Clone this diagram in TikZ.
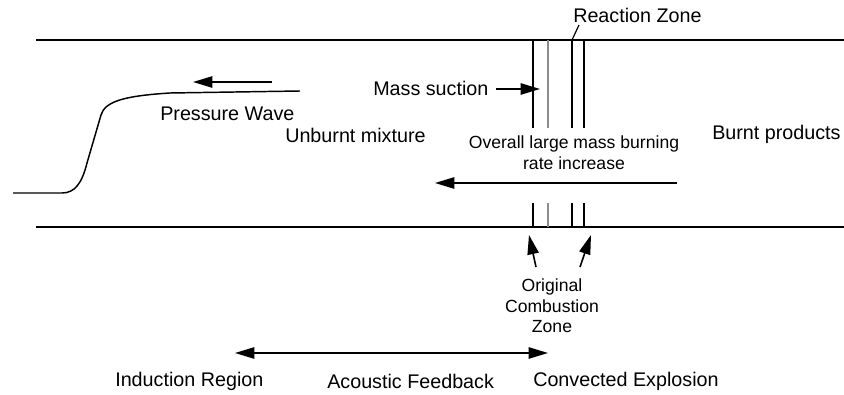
\documentclass[tikz,border=0pt]{standalone}
\usepackage{fontspec}
\setmainfont{Liberation Sans}
\usetikzlibrary{arrows.meta}
\begin{document}
\begin{tikzpicture}[x=0.75pt,y=-0.75pt,
  lbl/.style={inner sep=0pt, font=\fontsize{14.8}{17}\selectfont},
  sml/.style={inner sep=0pt, font=\fontsize{13.2}{15.5}\selectfont, align=center},
  wall/.style={line width=1.1pt},
  zline/.style={line width=1.1pt},
  gline/.style={line width=0.8pt, black!45},
  arr/.style={line width=1.2pt, -{Triangle[length=14.5pt,width=8.5pt]}},
  darr/.style={line width=1.2pt, {Triangle[length=14.5pt,width=8.5pt]}-{Triangle[length=14.5pt,width=8.5pt]}}]
\useasboundingbox (0,0) rectangle (844,395);
% tube walls
\coordinate (tl) at (36,40);  \coordinate (tr) at (844,40);
\coordinate (bl) at (36,227); \coordinate (br) at (844,227);
\draw[wall] (tl) -- (tr);
\draw[wall] (bl) -- (br);
% reaction zone lines
\foreach \x in {533,572,584}{
  \coordinate (t\x) at (\x,40); \coordinate (m\x) at (\x,128);
  \draw[zline] (t\x) -- (m\x);
  \coordinate (u\x) at (\x,203); \coordinate (b\x) at (\x,227);
  \draw[zline] (u\x) -- (b\x);
}
\coordinate (t548) at (548,40); \coordinate (m548) at (548,128);
\draw[gline] (t548) -- (m548);
\coordinate (u548) at (548,203); \coordinate (b548) at (548,227);
\draw[gline] (u548) -- (b548);
% pressure wave profile
\coordinate (pw0) at (13,193);
\coordinate (pw1) at (62,193);
\coordinate (pw2) at (87,163);
\coordinate (pw3) at (101,115);
\coordinate (pw4) at (170,93);
\coordinate (pw5) at (300,91);
\draw[line width=1.1pt] (pw0) -- (pw1) .. controls (75,193) and (82,183) .. (pw2) -- (pw3)
   .. controls (105,102) and (122,96) .. (pw4) -- (pw5);
\coordinate (pa1) at (272,82); \coordinate (pa2) at (193,82);
\draw[arr] (pa1) -- (pa2);
% labels
\node[lbl, anchor=west] (rz) at (573,15) {Reaction Zone};
\coordinate (rzl) at (579,25);
\draw[line width=0.9pt] (rzl) -- (t572);
\node[lbl, anchor=west] (ms) at (373,88) {Mass suction};
\coordinate (ms1) at (496,89); \coordinate (ms2) at (540,89);
\draw[arr] (ms1) -- (ms2);
\node[lbl, anchor=west] (pw) at (160,114) {Pressure Wave};
\node[lbl, anchor=west] (um) at (285,135) {Unburnt mixture};
\node[lbl, anchor=west] (bp) at (712,134) {Burnt products};
\node[sml] (ov) at (574,153) {Overall large mass burning\\rate increase};
\coordinate (ov1) at (677,183); \coordinate (ov2) at (435,183);
\draw[arr] (ov1) -- (ov2);
\node[sml] (oc) at (552,306) {Original\\Combustion\\Zone};
\coordinate (oa1) at (536,267); \coordinate (oa2) at (529,235);
\coordinate (ob1) at (580,267); \coordinate (ob2) at (591,235);
\draw[arr] (oa1) -- (oa2);
\draw[arr] (ob1) -- (ob2);
% bottom
\coordinate (da1) at (235,353); \coordinate (da2) at (548,353);
\draw[darr] (da1) -- (da2);
\node[lbl, anchor=west] (ir) at (115,381) {Induction Region};
\node[lbl, anchor=west] (af) at (327,381) {Acoustic Feedback};
\node[lbl, anchor=west] (ce) at (533,381) {Convected Explosion};
\end{tikzpicture}
\end{document}
